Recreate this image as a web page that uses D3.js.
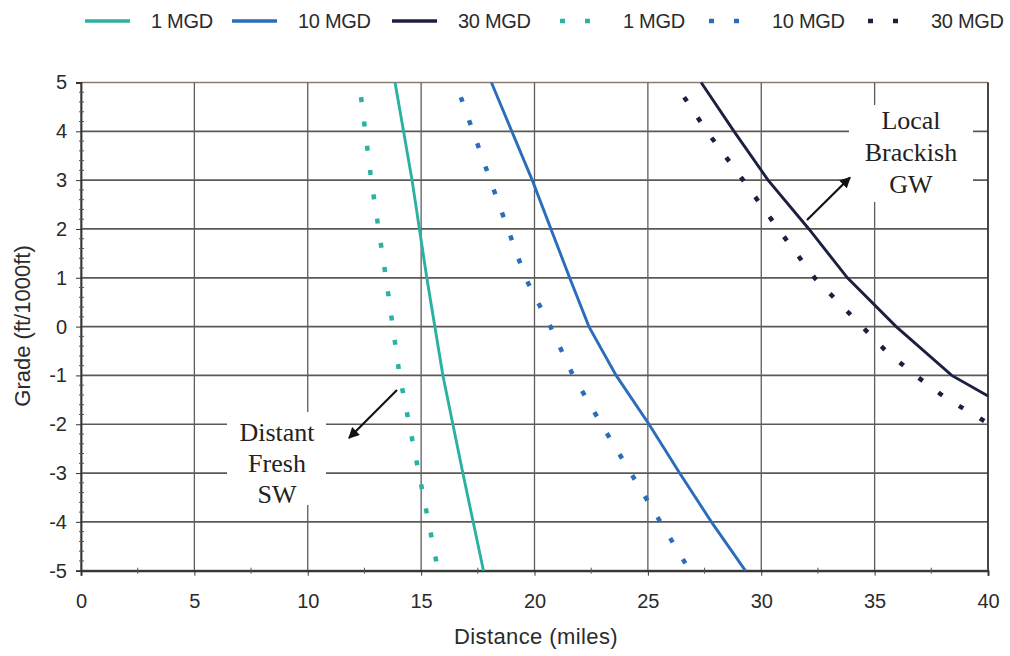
<!DOCTYPE html>
<html>
<head>
<meta charset="utf-8">
<script src="https://cdn.jsdelivr.net/npm/d3@7"></script>
<style>
  html, body { margin: 0; padding: 0; background: #ffffff; }
  svg { display: block; }
  .tick text { font-family: "Liberation Sans", Arial, sans-serif; }
</style>
</head>
<body>
<svg id="chart" width="1010" height="656"></svg>
<script>
// Distance (miles) at which each source option breaks even, by pipeline grade (ft/1000ft)
const solid1 = [[13.85, 5], [14.6, 3], [15.25, 1], [15.96, -1], [16.84, -3], [17.75, -5]];
const solid10 = [[18.1, 5], [19.9, 3], [21.55, 1], [22.4, 0], [23.6, -1], [25.05, -2], [26.4, -3], [27.8, -4], [29.3, -5]];
const solid30 = [[27.35, 5], [28.8, 4], [30.3, 3], [32.1, 2], [33.8, 1], [35.95, 0], [38.4, -1], [40, -1.42]];
const dotted1 = [[12.35, 4.7], [12.8, 3], [13.45, 1], [14.05, -1], [14.9, -3], [15.75, -5]];
const dotted10 = [[16.75, 4.7], [18.05, 3], [19.6, 1], [20.7, 0], [21.7, -1], [22.95, -2], [24.25, -3], [25.55, -4], [26.85, -5]];
const dotted30 = [[26.6, 4.7], [27.6, 4], [29.2, 3], [30.75, 2], [32.35, 1], [34.45, 0], [35.5, -0.5], [36.8, -1], [38.1, -1.45], [40, -1.98]];

const xTicks = [0, 5, 10, 15, 20, 25, 30, 35, 40];
const yTicks = [5, 4, 3, 2, 1, 0, -1, -2, -3, -4, -5];
const legendLabels = ["1 MGD", "10 MGD", "30 MGD", "1 MGD", "10 MGD", "30 MGD"];

const colors = { c1: "#2bb1a2", c10: "#2a6dbb", c30: "#1b2040" };

const svg = d3.select("#chart");
const plotL = 81, plotR = 988, plotT = 82.5, plotB = 570.7;

const x = d3.scaleLinear().domain([0, 40]).range([plotL, plotR]);
const y = d3.scaleLinear().domain([-5, 5]).range([plotB, plotT]);
const fmt = d => String(d); // plain hyphen for negatives
const sans = "Liberation Sans, Arial, sans-serif";

// grid
const grid = svg.append("g");
grid.selectAll(".hg").data(yTicks).enter().append("line")
  .attr("x1", plotL).attr("x2", plotR)
  .attr("y1", d => y(d)).attr("y2", d => y(d))
  .attr("stroke", d => d === 5 ? "#8b7c6e" : "#5e5853").attr("stroke-width", 1.7);
grid.selectAll(".vg").data(xTicks).enter().append("line")
  .attr("y1", plotT).attr("y2", plotB)
  .attr("x1", d => x(d)).attr("x2", d => x(d))
  .attr("stroke", "#5d5d5d").attr("stroke-width", 1.3);

// white label boxes that interrupt the grid
svg.append("rect").attr("x", 849).attr("y", 105).attr("width", 124).attr("height", 97).attr("fill", "#fff");
svg.append("rect").attr("x", 227).attr("y", 412).attr("width", 99).attr("height", 93).attr("fill", "#fff");

// frame
svg.append("line").attr("x1", plotR).attr("x2", plotR).attr("y1", plotT).attr("y2", plotB)
  .attr("stroke", "#333").attr("stroke-width", 1.6);

// axes
const yAxis = d3.axisLeft(y).tickValues(yTicks).tickSize(5).tickPadding(9).tickFormat(fmt);
const gy = svg.append("g").attr("transform", `translate(${plotL},0)`).call(yAxis);
gy.select(".domain").attr("stroke", "#333").attr("stroke-width", 1.8);
gy.selectAll(".tick line").attr("stroke", "#333");
gy.selectAll(".tick text").attr("font-size", 20).attr("fill", "#2b2b2b");
const yMinor = d3.range(-5, 5.001, 0.2).map(v => +v.toFixed(1)).filter(v => Math.abs(v - Math.round(v)) > 0.01);
svg.append("g").selectAll("line").data(yMinor).enter().append("line")
  .attr("x1", plotL - 2).attr("x2", plotL + 3)
  .attr("y1", d => y(d)).attr("y2", d => y(d))
  .attr("stroke", "#555").attr("stroke-width", 1);

const xAxis = d3.axisBottom(x).tickValues(xTicks).tickSize(5).tickPadding(18).tickFormat(fmt);
const gx = svg.append("g").attr("transform", `translate(0,${plotB})`).call(xAxis);
gx.select(".domain").attr("stroke", "#333").attr("stroke-width", 2);
gx.selectAll(".tick line").attr("stroke", "#333");
gx.selectAll(".tick text").attr("font-size", 20).attr("fill", "#2b2b2b");
const xMinor = d3.range(2.5, 40, 5);
svg.append("g").selectAll("line").data(xMinor).enter().append("line")
  .attr("y1", plotB - 3).attr("y2", plotB + 3)
  .attr("x1", d => x(d)).attr("x2", d => x(d))
  .attr("stroke", "#555").attr("stroke-width", 1);

// axis titles
svg.append("text").attr("x", 536).attr("y", 644).attr("text-anchor", "middle")
  .attr("font-family", sans).attr("font-size", 22).attr("letter-spacing", 0.4).attr("fill", "#2b2b2b")
  .text("Distance (miles)");
svg.append("text").attr("transform", "translate(30,326) rotate(-90)").attr("text-anchor", "middle")
  .attr("font-family", sans).attr("font-size", 22).attr("fill", "#2b2b2b")
  .text("Grade (ft/1000ft)");

// series
const line = d3.line().x(d => x(d[0])).y(d => y(d[1]));
const series = [
  { data: solid1, color: colors.c1, dash: null },
  { data: solid10, color: colors.c10, dash: null },
  { data: solid30, color: colors.c30, dash: null },
  { data: dotted1, color: colors.c1, dash: "5 19.5" },
  { data: dotted10, color: colors.c10, dash: "5 19.5" },
  { data: dotted30, color: colors.c30, dash: "5 19.5" }
];
svg.append("g").selectAll("path").data(series).enter().append("path")
  .attr("d", d => line(d.data))
  .attr("fill", "none")
  .attr("stroke", d => d.color)
  .attr("stroke-width", d => d.dash ? 4.5 : 2.9)
  .attr("stroke-dasharray", d => d.dash);

// callouts
const defs = svg.append("defs");
defs.append("marker").attr("id", "arrow").attr("viewBox", "0 0 10 10")
  .attr("refX", 9).attr("refY", 5).attr("markerWidth", 5).attr("markerHeight", 5)
  .attr("markerUnits", "strokeWidth").attr("orient", "auto")
  .append("path").attr("d", "M0,0 L10,5 L0,10 z").attr("fill", "#111");

svg.append("line").attr("x1", 807).attr("y1", 220).attr("x2", 850).attr("y2", 177.5)
  .attr("stroke", "#111").attr("stroke-width", 2.2).attr("marker-end", "url(#arrow)");
svg.append("line").attr("x1", 397).attr("y1", 390).attr("x2", 349).attr("y2", 438)
  .attr("stroke", "#111").attr("stroke-width", 2.2).attr("marker-end", "url(#arrow)");

const serif = "Liberation Serif, Times New Roman, serif";
const noteA = ["Local", "Brackish", "GW"];
svg.append("g").selectAll("text").data(noteA).enter().append("text")
  .attr("x", 911).attr("y", (d, i) => 129 + i * 32).attr("text-anchor", "middle")
  .attr("font-family", serif).attr("font-size", 26).attr("fill", "#222").text(d => d);
const noteB = ["Distant", "Fresh", "SW"];
svg.append("g").selectAll("text").data(noteB).enter().append("text")
  .attr("x", 277).attr("y", (d, i) => 441 + i * 31).attr("text-anchor", "middle")
  .attr("font-family", serif).attr("font-size", 26).attr("fill", "#222").text(d => d);

// legend
const legendItems = [
  { label: legendLabels[0], color: colors.c1, dotted: false, x0: 85 },
  { label: legendLabels[1], color: colors.c10, dotted: false, x0: 232 },
  { label: legendLabels[2], color: colors.c30, dotted: false, x0: 392 },
  { label: legendLabels[3], color: colors.c1, dotted: true, x0: 560 },
  { label: legendLabels[4], color: colors.c10, dotted: true, x0: 709 },
  { label: legendLabels[5], color: colors.c30, dotted: true, x0: 868 }
];
const lg = svg.append("g");
legendItems.forEach(it => {
  if (it.dotted) {
    lg.append("line").attr("x1", it.x0).attr("x2", it.x0 + 30).attr("y1", 21).attr("y2", 21)
      .attr("stroke", it.color).attr("stroke-width", 4.5).attr("stroke-dasharray", "5 20");
  } else {
    lg.append("line").attr("x1", it.x0).attr("x2", it.x0 + 45).attr("y1", 21).attr("y2", 21)
      .attr("stroke", it.color).attr("stroke-width", 3.4);
  }
  lg.append("text").attr("x", it.dotted ? it.x0 + 63 : it.x0 + 66).attr("y", 28)
    .attr("font-family", sans).attr("font-size", 20)
    .attr("letter-spacing", -0.3).attr("fill", "#2b2b2b").text(it.label);
});
</script>
</body>
</html>
